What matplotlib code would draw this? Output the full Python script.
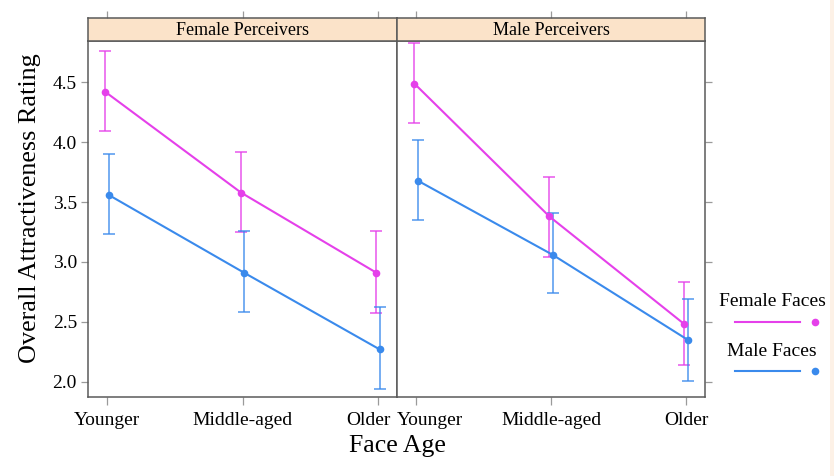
import matplotlib
matplotlib.use("Agg")
import matplotlib.pyplot as plt
from matplotlib.lines import Line2D
from matplotlib.patches import Rectangle
from matplotlib.transforms import ScaledTranslation
import numpy as np

plt.rcParams['font.family'] = ['Liberation Serif', 'DejaVu Serif']

categories = ["Younger", "Middle-aged", "Older"]
panels = ["Female Perceivers", "Male Perceivers"]
series = ["Female Faces", "Male Faces"]

# Female perceivers
fp_female_mean = [4.42, 3.58, 2.91]
fp_female_lo = [4.09, 3.25, 2.57]
fp_female_hi = [4.76, 3.92, 3.26]
fp_male_mean = [3.56, 2.91, 2.27]
fp_male_lo = [3.23, 2.58, 1.94]
fp_male_hi = [3.90, 3.26, 2.62]

# Male perceivers
mp_female_mean = [4.49, 3.38, 2.48]
mp_female_lo = [4.16, 3.04, 2.14]
mp_female_hi = [4.83, 3.71, 2.83]
mp_male_mean = [3.68, 3.06, 2.35]
mp_male_lo = [3.35, 2.74, 2.01]
mp_male_hi = [4.02, 3.41, 2.69]

yticks = [2.0, 2.5, 3.0, 3.5, 4.0, 4.5]

col_f = "#e540ea"
col_m = "#3a8aec"
frame_col = "#5a5a5a"
tick_col = "#9a9a9a"
strip_col = "#fbe3c9"

W, H = 834, 476
fig = plt.figure(figsize=(W / 100, H / 100), dpi=100)
fig.patch.set_facecolor("white")
fig.add_artist(Rectangle((830 / W, 0), 4 / W, 1, transform=fig.transFigure,
                         facecolor="#fdf1e6", edgecolor="none"))

data = [
    ((fp_female_mean, fp_female_lo, fp_female_hi), (fp_male_mean, fp_male_lo, fp_male_hi)),
    ((mp_female_mean, mp_female_lo, mp_female_hi), (mp_male_mean, mp_male_lo, mp_male_hi)),
]

px = [(88, 397), (397, 705)]
ytop, ybot = 41, 397
strip_top = 18
xlim = (0.86, 3.14)
ylim = (1.8725, 4.845)
x = np.arange(1, len(categories) + 1)
dodge = [-0.012, 0.012]
# horizontal nudges (pixels) of crowded tick labels at the panel join
label_shift = [{2: -9.5}, {0: 14}]

for i, (x0, x1) in enumerate(px):
    ax = fig.add_axes([x0 / W, 1 - ybot / H, (x1 - x0) / W, (ybot - ytop) / H])
    for j, ((mean, lo, hi), col) in enumerate(zip(data[i], [col_f, col_m])):
        xs = x + dodge[j]
        m = np.array(mean)
        yerr = [m - np.array(lo), np.array(hi) - m]
        ax.errorbar(xs, m, yerr=yerr, fmt="none", ecolor=col, alpha=0.75,
                    elinewidth=1.3, capsize=4.3, capthick=1.3, zorder=2)
        ax.plot(xs, m, color=col, lw=1.5, marker="o", markersize=5.5,
                markeredgewidth=0, zorder=3)
    ax.set_xlim(*xlim)
    ax.set_ylim(*ylim)
    ax.set_xticks(x)
    ax.set_xticklabels(categories, fontsize=14)
    ax.set_yticks(yticks)
    if i == 0:
        ax.set_yticklabels([f"{v:.1f}" for v in yticks], fontsize=14)
        ax.tick_params(axis="y", left=True, right=False, labelleft=True)
    else:
        ax.tick_params(axis="y", left=False, right=True, labelleft=False, labelright=False)
    ax.tick_params(axis="both", direction="out", length=5, width=0.9, color=tick_col,
                   pad=3)
    ax.tick_params(axis="x", length=6, pad=5)
    for k, dx in label_shift[i].items():
        lab = ax.get_xticklabels()[k]
        lab.set_transform(lab.get_transform() + ScaledTranslation(dx / 100, 0, fig.dpi_scale_trans))
    for s in ax.spines.values():
        s.set_color(frame_col)
        s.set_linewidth(1.1)

    sax = fig.add_axes([x0 / W, 1 - ytop / H, (x1 - x0) / W, (ytop - strip_top) / H])
    sax.set_facecolor(strip_col)
    sax.set_xlim(*xlim)
    sax.set_ylim(0, 1)
    sax.set_xticks(x)
    sax.set_xticklabels([])
    sax.set_yticks([])
    sax.tick_params(axis="x", bottom=False, top=True, labeltop=False, labelbottom=False,
                    direction="out", length=5, width=0.9, color=tick_col)
    for s in sax.spines.values():
        s.set_color(frame_col)
        s.set_linewidth(1.1)
    sax.text(0.5, 0.45, panels[i], transform=sax.transAxes, ha="center", va="center",
             fontsize=13)

fig.text(397 / W, 1 - 446 / H, "Face Age", ha="center", va="center", fontsize=18.5)
fig.text(30 / W, 1 - 208 / H, "Overall Attractiveness Rating", ha="center", va="center",
         rotation=90, fontsize=18.8)

# legend
leg = [("Female Faces", col_f, 302, 321.7), ("Male Faces", col_m, 352, 370.7)]
for label, col, ty, ly in leg:
    fig.text(772 / W, 1 - ty / H, label, ha="center", va="center", fontsize=14)
    fig.add_artist(Line2D([735 / W, 800 / W], [1 - ly / H, 1 - ly / H], color=col, lw=1.5,
                          transform=fig.transFigure))
    fig.add_artist(Line2D([815 / W], [1 - ly / H], color=col, marker="o", markersize=5.5,
                          markeredgewidth=0, linestyle="none", transform=fig.transFigure))

fig.savefig("out.png", dpi=100)
